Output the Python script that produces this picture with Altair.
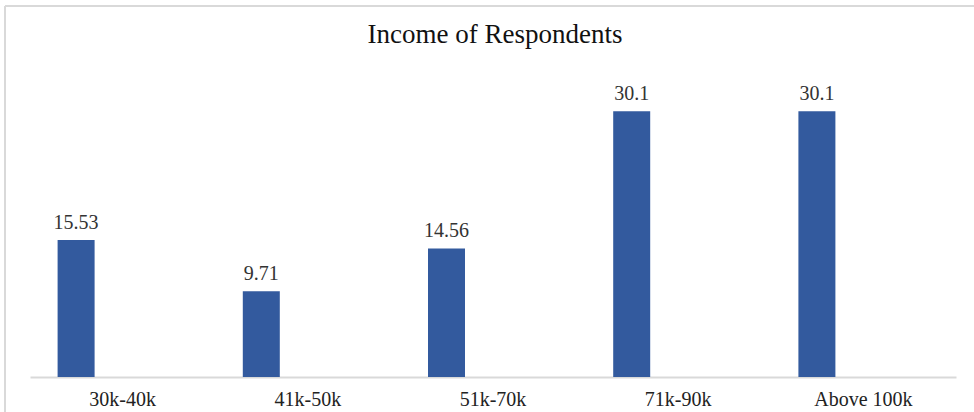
import altair as alt
import pandas as pd

categories = ["30k-40k", "41k-50k", "51k-70k", "71k-90k", "Above 100k"]
values = [15.53, 9.71, 14.56, 30.1, 30.1]
value_labels = ["15.53", "9.71", "14.56", "30.1", "30.1"]
title_text = "Income of Respondents"

df = pd.DataFrame({"cat": categories, "val": values, "lab": value_labels})
tdf = pd.DataFrame({"t": [title_text]})

FONT = "Liberation Serif"
BAR = "#335A9E"

x = alt.X("cat:N", sort=categories, title=None,
          scale=alt.Scale(paddingInner=0, paddingOuter=0),
          axis=alt.Axis(labelAngle=0, ticks=False, labelPadding=12,
                        labelFont=FONT, labelFontSize=20, labelColor="#222222",
                        domainColor="#d9d9d9", domainWidth=2))
y = alt.Y("val:Q", title=None, scale=alt.Scale(domain=[0, 35]), axis=None)

bars = alt.Chart(df).mark_bar(width=37, xOffset=-46.5, color=BAR).encode(x=x, y=y)
texts = alt.Chart(df).mark_text(xOffset=-46.5, dy=-7, baseline="bottom",
                                font=FONT, fontSize=20, color="#333333").encode(
    x=x, y=y, text="lab:N")

title = alt.Chart(tdf).mark_text(font=FONT, fontSize=27, color="#111111",
                                 baseline="middle", align="center").encode(
    x=alt.value(465), y=alt.value(-33), text="t:N")

top_border = alt.Chart(df).mark_rule(color="#d9d9d9", strokeWidth=2).encode(
    x=alt.value(-25), x2=alt.value(944), y=alt.value(-62))
left_border = alt.Chart(df).mark_rule(color="#d9d9d9", strokeWidth=2).encode(
    x=alt.value(-25), y=alt.value(-62), y2=alt.value(344))

chart = alt.layer(top_border, left_border, bars, texts, title).properties(
    width=926, height=309,
    background="white",
    autosize=alt.AutoSizeParams(type="none"),
    padding={"left": 30, "top": 68, "right": 18, "bottom": 35},
).configure_view(strokeWidth=0, stroke="transparent")

chart.save("out.html", embed_options={"renderer": "svg", "actions": False})
